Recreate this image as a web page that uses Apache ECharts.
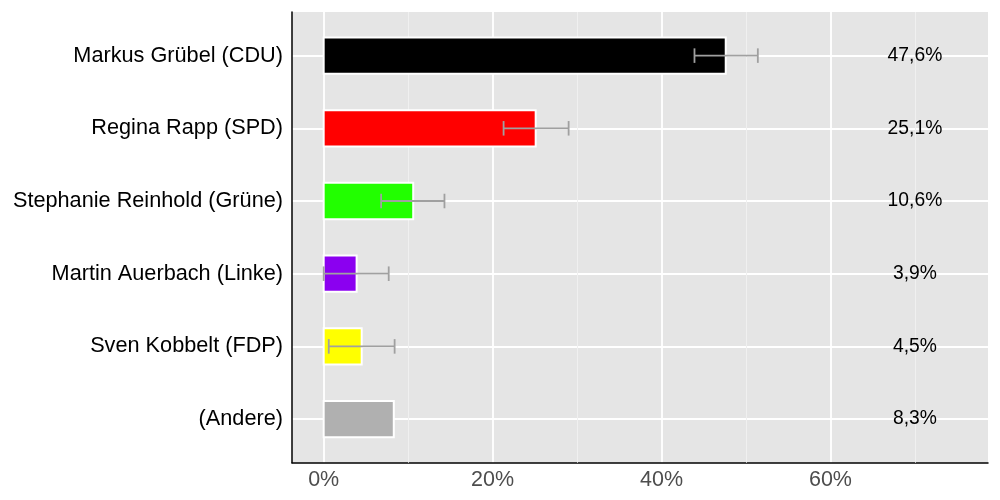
<!DOCTYPE html>
<html>
<head>
<meta charset="utf-8">
<script src="https://cdn.jsdelivr.net/npm/echarts@6/dist/echarts.min.js"></script>
<style>html,body{margin:0;padding:0;background:#fff;}#c{width:1000px;height:500px;}</style>
</head>
<body>
<div id="c"></div>
<script>
const candidates = ['Markus Grübel (CDU)', 'Regina Rapp (SPD)', 'Stephanie Reinhold (Grüne)', 'Martin Auerbach (Linke)', 'Sven Kobbelt (FDP)', '(Andere)'];
const shares = [47.6, 25.1, 10.6, 3.9, 4.5, 8.3];
const errLow = [43.9, 21.3, 6.8, 0.0, 0.6, null];
const errHigh = [51.4, 29.0, 14.3, 7.7, 8.4, null];
const partyColors = ['#000000', '#ff0000', '#22ff00', '#8b00f0', '#ffff00', '#b0b0b0'];
const xTicks = [0, 20, 40, 60];
const xMinor = [10, 30, 50, 70];

const FONT = '"Liberation Sans", Arial, Helvetica, sans-serif';
const chart = echarts.init(document.getElementById('c'), null, {renderer: 'canvas'});

const barData = shares.map((v, i) => [v, i]);
const errData = [];
errLow.forEach((lo, i) => { if (lo !== null) errData.push([lo, errHigh[i], i]); });
const labelData = shares.map((v, i) => [v, i]);

chart.setOption({
  animation: false,
  backgroundColor: '#ffffff',
  grid: {left: 292, right: 12, top: 12, bottom: 37.3, show: true, backgroundColor: '#e5e5e5', borderWidth: 0},
  xAxis: {
    type: 'value', min: -3.75, max: 78.65,
    axisLine: {show: true, onZero: false, lineStyle: {color: '#000', width: 1.5}},
    axisTick: {show: false},
    axisLabel: {
      color: '#4d4d4d', fontFamily: FONT, fontSize: 21.5, margin: 6,
      formatter: v => xTicks.includes(Math.round(v * 1000) / 1000) ? v + '%' : ''
    },
    splitLine: {show: true, showMinLine: false, showMaxLine: false, lineStyle: {color: '#ffffff', width: 1.8}}
  },
  yAxis: {
    type: 'value', inverse: true, min: -0.6, max: 5.6,
    axisLine: {show: true, onZero: false, lineStyle: {color: '#000', width: 1.5}},
    axisTick: {show: false},
    axisLabel: {
      color: '#000', fontFamily: FONT, fontSize: 21.7, margin: 9,
      formatter: v => Number.isInteger(v) && candidates[v] !== undefined ? candidates[v] : ''
    },
    splitLine: {show: true, showMinLine: false, showMaxLine: false, lineStyle: {color: '#ffffff', width: 1.8}}
  },
  series: [
    {
      type: 'line', data: [], silent: true, z: 1,
      markLine: {
        silent: true, symbol: 'none', z: 1, label: {show: false},
        lineStyle: {color: '#f0f0f0', width: 1, type: 'solid'},
        data: xMinor.map(v => ({xAxis: v}))
      }
    },
    {
      type: 'custom', z: 3, data: barData,
      renderItem: (params, api) => {
        const v = api.value(0), i = api.value(1);
        const p0 = api.coord([0, i]);
        const p1 = api.coord([v, i]);
        const h = api.size([0, 0.5])[1];
        return {
          type: 'rect',
          shape: {x: p0[0], y: p0[1] - h / 2, width: p1[0] - p0[0], height: h},
          style: {fill: partyColors[i], stroke: '#ffffff', lineWidth: 2}
        };
      }
    },
    {
      type: 'custom', z: 4, data: errData,
      renderItem: (params, api) => {
        const lo = api.value(0), hi = api.value(1), i = api.value(2);
        const a = api.coord([lo, i]);
        const b = api.coord([hi, i]);
        const c = api.size([0, 0.2])[1] / 2;
        const st = {stroke: '#a0a0a0', lineWidth: 1.8, fill: null};
        return {
          type: 'group',
          children: [
            {type: 'line', shape: {x1: a[0], y1: a[1], x2: b[0], y2: b[1]}, style: st},
            {type: 'line', shape: {x1: a[0], y1: a[1] - c, x2: a[0], y2: a[1] + c}, style: st},
            {type: 'line', shape: {x1: b[0], y1: b[1] - c, x2: b[0], y2: b[1] + c}, style: st}
          ]
        };
      }
    },
    {
      type: 'custom', z: 5, data: labelData,
      renderItem: (params, api) => {
        const v = api.value(0), i = api.value(1);
        const p = api.coord([70, i]);
        return {
          type: 'text',
          x: p[0], y: p[1],
          style: {
            text: v.toFixed(1).replace('.', ',') + '%',
            fill: '#000', font: '19.3px ' + FONT,
            align: 'center', verticalAlign: 'middle'
          }
        };
      }
    }
  ]
});
</script>
</body>
</html>
